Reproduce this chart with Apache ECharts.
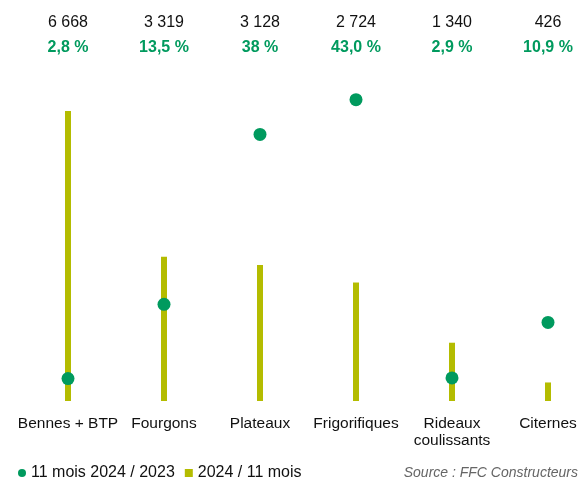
<!DOCTYPE html>
<html>
<head>
<meta charset="utf-8">
<script src="https://cdn.jsdelivr.net/npm/echarts@6/dist/echarts.min.js"></script>
<style>
html,body{margin:0;padding:0;background:#fff;}
#chart{width:580px;height:479px;}
</style>
</head>
<body>
<div id="chart"></div>
<script>
const categories = ['Bennes + BTP', 'Fourgons', 'Plateaux', 'Frigorifiques', 'Rideaux\ncoulissants', 'Citernes'];
const volumes = [6668, 3319, 3128, 2724, 1340, 426];
const growth = [2.8, 13.5, 38, 43.0, 2.9, 10.9];
const growthLabels = ['2,8 %', '13,5 %', '38 %', '43,0 %', '2,9 %', '10,9 %'];
const seriesNames = ['11 mois 2024 / 2023', '2024 / 11 mois'];
const sourceText = 'Source : FFC Constructeurs';

const GREEN = '#009a5e';
const OLIVE = '#b4bc00';
const FONT = 'Liberation Sans, Arial, sans-serif';

function fmt(n) {
  return String(n).replace(/\B(?=(\d{3})+(?!\d))/g, ' ');
}

const chart = echarts.init(document.getElementById('chart'));
chart.setOption({
  animation: false,
  textStyle: { fontFamily: FONT },
  grid: { left: 68, right: 32, top: 90, bottom: 78, containLabel: false },
  legend: {
    left: 18, top: 465, padding: 0, itemGap: 10,
    itemWidth: 8, itemHeight: 8,
    textStyle: { fontSize: 16, color: '#111', fontFamily: FONT },
    data: [
      { name: seriesNames[0], icon: 'circle' },
      { name: seriesNames[1], icon: 'rect' }
    ]
  },
  graphic: [{
    type: 'text', right: 2, bottom: -1,
    style: { text: sourceText, fontSize: 14, fontStyle: 'italic', fill: '#666', fontFamily: FONT }
  }],
  xAxis: [{
    type: 'category', data: categories, boundaryGap: false,
    axisLine: { show: false }, axisTick: { show: false },
    axisLabel: { interval: 0, margin: 14, fontSize: 15.5, color: '#111', lineHeight: 17 }
  }, {
    type: 'category', data: categories, boundaryGap: false, position: 'top',
    axisLine: { show: false }, axisTick: { show: false },
    axisLabel: {
      interval: 0, margin: 30,
      formatter: function (v, i) {
        return '{v|' + fmt(volumes[i]) + '}\n{p|' + growthLabels[i] + '}';
      },
      rich: {
        v: { fontSize: 16, color: '#111', lineHeight: 25, fontFamily: FONT },
        p: { fontSize: 16, color: GREEN, fontWeight: 'bold', lineHeight: 25, fontFamily: FONT }
      }
    }
  }],
  yAxis: [{
    type: 'value', min: 0, max: 7150, show: false, splitLine: { show: false }
  }, {
    type: 'value', min: -0.43, max: 44.4, show: false, splitLine: { show: false }
  }],
  series: [{
    name: seriesNames[1], type: 'bar', data: volumes, barWidth: 6,
    xAxisIndex: 0, yAxisIndex: 0,
    itemStyle: { color: OLIVE }
  }, {
    name: seriesNames[0], type: 'scatter', data: growth, symbolSize: 13,
    xAxisIndex: 0, yAxisIndex: 1, z: 5,
    itemStyle: { color: GREEN, opacity: 1 }
  }]
});
</script>
</body>
</html>
